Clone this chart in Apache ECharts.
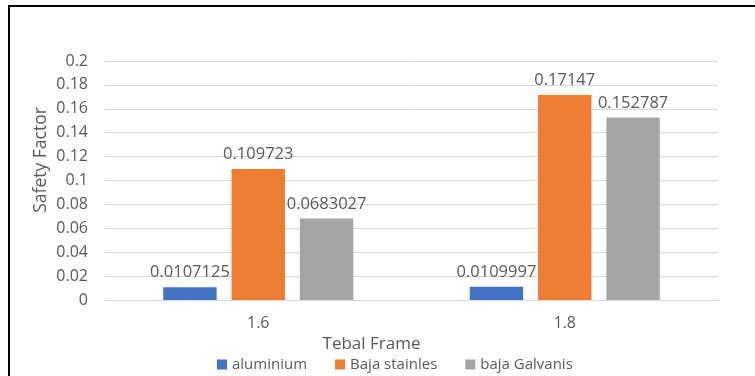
<!DOCTYPE html>
<html>
<head>
<meta charset="utf-8">
<script src="https://cdn.jsdelivr.net/npm/echarts@6/dist/echarts.min.js"></script>
<style>
html,body{margin:0;padding:0;background:#fff;overflow:hidden;}
#frame{position:absolute;left:8px;top:5px;width:800px;height:420px;border:2px solid #000;box-sizing:border-box;}
#chart{position:absolute;left:0;top:0;width:755px;height:376px;}
</style>
</head>
<body>
<div id="frame"></div>
<div id="chart"></div>
<script>
const categories = ['1.6', '1.8'];
const aluminium = [0.0107125, 0.0109997];
const bajaStainles = [0.109723, 0.17147];
const bajaGalvanis = [0.0683027, 0.152787];
const seriesNames = ['aluminium', 'Baja stainles', 'baja Galvanis'];
const yTicks = {min: 0, max: 0.2, interval: 0.02};
const yTitle = 'Safety Factor';
const xTitle = 'Tebal Frame';

const FONT = 'Open Sans';
const TXT = '#595959';
const chart = echarts.init(document.getElementById('chart'));
const label = {show: true, position: 'top', distance: 6, color: TXT, fontFamily: FONT, fontSize: 16.5};
chart.setOption({
  animation: false,
  textStyle: {fontFamily: FONT},
  grid: {left: 105, right: 37, top: 61, bottom: 76},
  graphic: [{
    type: 'text', x: 41, y: 160, rotation: Math.PI / 2,
    style: {text: yTitle, fill: TXT, font: '17.5px "Open Sans"', align: 'center', verticalAlign: 'middle'}
  }],
  legend: {
    left: 212, top: 352, itemWidth: 10, itemHeight: 10, itemGap: 28,
    icon: 'rect',
    textStyle: {color: TXT, fontFamily: FONT, fontSize: 15},
    data: seriesNames
  },
  xAxis: {
    type: 'category', data: categories,
    name: xTitle, nameLocation: 'middle', nameGap: 36,
    nameTextStyle: {color: TXT, fontFamily: FONT, fontSize: 17, padding: [0, 80, 0, 0]},
    axisLine: {lineStyle: {color: '#D9D9D9', width: 1}},
    axisTick: {show: false},
    axisLabel: {color: TXT, fontFamily: FONT, fontSize: 16, margin: 15}
  },
  yAxis: {
    type: 'value', min: yTicks.min, max: yTicks.max, interval: yTicks.interval,
    axisLine: {show: false}, axisTick: {show: false},
    axisLabel: {color: TXT, fontFamily: FONT, fontSize: 16, margin: 17},
    splitLine: {lineStyle: {color: '#D9D9D9', width: 1}}
  },
  series: [
    {name: seriesNames[0], type: 'bar', data: aluminium, itemStyle: {color: '#4472C4'}, barGap: '28%', barCategoryGap: '38%', label: label},
    {name: seriesNames[1], type: 'bar', data: bajaStainles, itemStyle: {color: '#ED7D31'}, barGap: '28%', barCategoryGap: '38%', label: label},
    {name: seriesNames[2], type: 'bar', data: bajaGalvanis, itemStyle: {color: '#A5A5A5'}, barGap: '28%', barCategoryGap: '38%', label: label}
  ]
});
</script>
</body>
</html>
